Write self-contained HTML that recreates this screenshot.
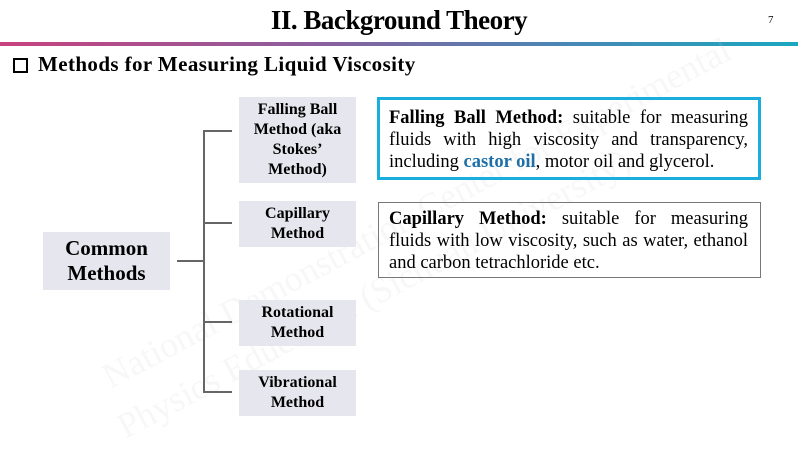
<!DOCTYPE html>
<html><head><style>
body{margin:0;width:798px;height:449px;background:#fff;position:relative;overflow:hidden;font-family:"Liberation Serif",serif;}
.a{position:absolute;}
.title{left:0;width:798px;top:5px;text-align:center;font-size:27px;font-weight:bold;letter-spacing:-0.5px;}
.num{left:768px;top:14px;font-size:11px;}
.bar{left:0;top:42px;width:798px;height:4px;background:linear-gradient(90deg,#c8427f 0%,#8a5f9d 40%,#4a86b5 70%,#1aa7c0 100%);}
.sub{left:38px;top:52px;font-size:21px;font-weight:bold;letter-spacing:0.4px;}
.chk{left:13px;top:58px;width:11px;height:11px;border:2px solid #000;}
.box{background:#e6e6ee;text-align:center;font-weight:bold;display:flex;align-items:center;justify-content:center;}
.sm{font-size:16px;line-height:20px;}
.ln{background:#666;}
.l{font-size:18.5px;height:22px;line-height:22px;text-align:justify;text-align-last:justify;width:359px;white-space:nowrap;}
.l.e{text-align-last:left;}
.wm{color:rgba(200,200,200,0.15);font-size:36px;transform:rotate(-28deg);transform-origin:left top;white-space:nowrap;}
</style></head><body>
<div class="a title">II. Background Theory</div>
<div class="a num">7</div>
<div class="a bar"></div>
<div class="a chk"></div>
<div class="a sub">Methods for Measuring Liquid Viscosity</div>

<div class="a wm" style="left:95px;top:360px;">National Demonstration Center for Experimental</div>
<div class="a wm" style="left:110px;top:410px;">Physics Education (Sichuan University)</div>

<div class="a box" style="left:43px;top:232px;width:127px;height:58px;font-size:21px;line-height:25px;">Common<br>Methods</div>
<div class="a box sm" style="left:239px;top:97px;width:117px;height:86px;">Falling Ball<br>Method (aka<br>Stokes’<br>Method)</div>
<div class="a box sm" style="left:239px;top:201px;width:117px;height:46px;">Capillary<br>Method</div>
<div class="a box sm" style="left:239px;top:300px;width:117px;height:46px;">Rotational<br>Method</div>
<div class="a box sm" style="left:239px;top:370px;width:117px;height:46px;">Vibrational<br>Method</div>

<div class="a ln" style="left:177px;top:260px;width:27px;height:2px;"></div>
<div class="a ln" style="left:203px;top:131px;width:2px;height:262px;"></div>
<div class="a ln" style="left:203px;top:130px;width:29px;height:2px;"></div>
<div class="a ln" style="left:203px;top:222px;width:29px;height:2px;"></div>
<div class="a ln" style="left:203px;top:321px;width:29px;height:2px;"></div>
<div class="a ln" style="left:203px;top:391px;width:29px;height:2px;"></div>

<div class="a" style="left:377px;top:97px;width:378px;height:77px;border:3px solid #1aaedf;"></div>
<div class="a" style="left:389px;top:107px;">
<div class="l"><b>Falling Ball Method:</b> suitable for measuring</div>
<div class="l">fluids with high viscosity and transparency,</div>
<div class="l e">including <b style="color:#1e6fa8">castor oil</b>, motor oil and glycerol.</div>
</div>
<div class="a" style="left:378px;top:202px;width:381px;height:74px;border:1px solid #777;"></div>
<div class="a" style="left:389px;top:208px;">
<div class="l"><b>Capillary Method:</b> suitable for measuring</div>
<div class="l">fluids with low viscosity, such as water, ethanol</div>
<div class="l e">and carbon tetrachloride etc.</div>
</div>
</body></html>
